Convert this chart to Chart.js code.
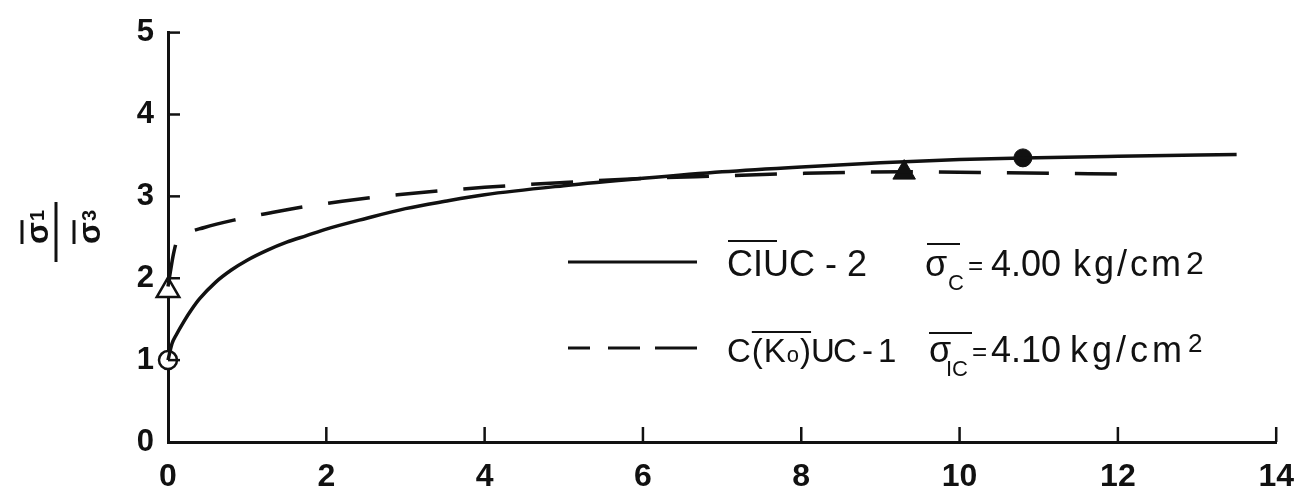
<!DOCTYPE html>
<html>
<head>
<meta charset="utf-8">
<script src="https://cdn.jsdelivr.net/npm/chart.js@4"></script>
<style>
  html, body { margin: 0; padding: 0; background: #fff; }
  #wrap { width: 1310px; height: 497px; }
</style>
</head>
<body>
<div id="wrap"><canvas id="myChart" width="1310" height="497"></canvas></div>
<script>
// strain (%) on x, principal stress ratio on y
var ciucX = [0, 0.05, 0.1, 0.2, 0.3, 0.4, 0.6, 0.8, 1.0, 1.25, 1.5, 1.75, 2, 2.5, 3, 3.5, 4, 5, 6, 7, 8, 9, 10, 10.8, 12, 13.5];
var ciucY = [1, 1.2, 1.3, 1.47, 1.62, 1.75, 1.95, 2.1, 2.22, 2.34, 2.44, 2.52, 2.6, 2.73, 2.85, 2.94, 3.02, 3.13, 3.22, 3.3, 3.36, 3.41, 3.45, 3.47, 3.49, 3.51];

var ckoucX = [0, 0.03, 0.07, 0.11, 0.2, 0.46, 0.83, 1.3, 1.7, 2.2, 2.9, 4, 5, 6, 7, 8, 9.3, 10.5, 12.2];
var ckoucY = [1.9, 2.08, 2.3, 2.45, 2.53, 2.62, 2.71, 2.8, 2.87, 2.94, 3.02, 3.11, 3.17, 3.22, 3.25, 3.28, 3.3, 3.29, 3.27];

// initial points and failure points
var startCircle = [{x: 0, y: 1}];
var startTriangle = [{x: 0, y: 1.85}];
var failCircle = [{x: 10.8, y: 3.47}];
var failTriangle = [{x: 9.3, y: 3.29}];

var xTicks = [0, 2, 4, 6, 8, 10, 12, 14];
var yTicks = [0, 1, 2, 3, 4, 5];

function pts(xs, ys) {
  return xs.map(function (v, i) { return {x: v, y: ys[i]}; });
}

var ink = '#111';
var fontName = '"Liberation Sans", Arial, sans-serif';

/*inward ticks, y title and the hand-lettered legend*/
var extras = {
  id: 'extras',
  afterDraw: function (chart) {
    var c = chart.ctx;
    var xs = chart.scales.x, ys = chart.scales.y;
    c.save();
    c.strokeStyle = ink;
    c.fillStyle = ink;
    c.lineWidth = 2.5;
    // ticks pointing into the plot
    xTicks.forEach(function (t) {
      if (t === 0) return;
      var px = xs.getPixelForValue(t);
      c.beginPath(); c.moveTo(px, ys.bottom); c.lineTo(px, ys.bottom - 15); c.stroke();
    });
    yTicks.forEach(function (t) {
      if (t === 0) return;
      var py = ys.getPixelForValue(t);
      c.beginPath(); c.moveTo(xs.left, py); c.lineTo(xs.left + 12, py); c.stroke();
    });

    // y title: sigma1 / sigma3 as a fraction turned on its side
    c.save();
    c.translate(56, 232);
    c.rotate(-Math.PI / 2);
    c.textAlign = 'left';
    c.textBaseline = 'alphabetic';
    c.lineWidth = 3;
    c.beginPath(); c.moveTo(-30, 0); c.lineTo(30, 0); c.stroke();
    function sig(x, y, sub) {
      c.font = 'bold 32px ' + fontName;
      c.fillText('σ', x, y);
      var w = c.measureText('σ').width;
      c.lineWidth = 3;
      c.beginPath(); c.moveTo(x, y - 26); c.lineTo(x + w + 2, y - 26); c.stroke();
      c.font = 'bold 20px ' + fontName;
      c.fillText(sub, x + w + 1, y - 4);
    }
    sig(-12, -8, '1');
    sig(-12, 44, '3');
    c.restore();

    // legend samples
    c.lineWidth = 3;
    c.beginPath(); c.moveTo(568, 262); c.lineTo(697, 262); c.stroke();
    [[568, 590], [608, 640], [655, 697]].forEach(function (s) {
      c.beginPath(); c.moveTo(s[0], 348); c.lineTo(s[1], 348); c.stroke();
    });
    c.lineWidth = 2;
    c.textBaseline = 'alphabetic';
    c.textAlign = 'left';
    var big = '36px ' + fontName, mid = '33px ' + fontName, small = '22px ' + fontName;
    function over(x1, x2, y) {
      c.beginPath(); c.moveTo(x1, y); c.lineTo(x2, y); c.stroke();
    }
    function txt(s, x, y, f, sp) {
      c.font = f;
      c.letterSpacing = (sp || 0) + 'px';
      c.fillText(s, x, y);
      var w = c.measureText(s).width;
      c.letterSpacing = '0px';
      return w;
    }

    // row 1
    txt('CIUC - 2', 727, 276, big, 0);
    over(728, 777, 241);
    txt('σ', 925, 276, big, 0);
    over(927, 960, 244);
    txt('C', 948, 290, small, 0);
    txt('=', 968, 274, '26px ' + fontName, 0);
    txt('4.00', 991, 276, big, 0);
    var w1 = txt('kg/cm', 1073, 276, big, 3);
    txt('2', 1073 + w1 + 2, 274, '32px ' + fontName, 0);

    // row 2
    var x = 727;
    var wc = txt('C(', x, 362, mid, 1);
    var ol = x + wc - 12;
    x += wc;
    x += txt('K', x, 362, mid, 0);
    x += txt('o', x + 1, 362, small, 0) + 2;
    var wp = txt(')', x, 362, mid, 0);
    over(ol, x + wp, 332);
    x += wp;
    txt('UC - 1', x, 362, mid, -2);
    txt('σ', 929, 362, big, 0);
    over(929, 972, 333);
    txt('IC', 946, 376, small, 0);
    txt('=', 972, 360, '26px ' + fontName, 0);
    txt('4.10', 991, 362, big, 0);
    var w2 = txt('kg/cm', 1070, 362, big, 4);
    txt('2', 1070 + w2 + 2, 352, '26px ' + fontName, 0);
    c.restore();
  }
};

var ctx = document.getElementById('myChart').getContext('2d');
var chart = new Chart(ctx, {
  type: 'scatter',
  data: {
    datasets: [
      {
        label: 'CIUC-2',
        data: pts(ciucX, ciucY),
        showLine: true,
        borderColor: ink,
        borderWidth: 3.5,
        pointRadius: 0,
        cubicInterpolationMode: 'monotone',
        clip: false
      },
      {
        label: 'C(Ko)UC-1',
        data: pts(ckoucX, ckoucY),
        showLine: true,
        borderColor: ink,
        borderWidth: 3.5,
        borderDash: [42, 26],
        pointRadius: 0,
        cubicInterpolationMode: 'monotone',
        clip: false
      },
      {
        label: 'start CIUC',
        data: startCircle,
        pointStyle: 'circle',
        pointRadius: 9,
        borderColor: ink,
        borderWidth: 2.5,
        backgroundColor: '#fff',
        clip: false
      },
      {
        label: 'start CKoUC',
        data: startTriangle,
        pointStyle: 'triangle',
        pointRadius: 13,
        borderColor: ink,
        borderWidth: 2.5,
        backgroundColor: '#fff',
        clip: false
      },
      {
        label: 'failure CIUC',
        data: failCircle,
        pointStyle: 'circle',
        pointRadius: 9,
        borderColor: ink,
        backgroundColor: ink,
        clip: false
      },
      {
        label: 'failure CKoUC',
        data: failTriangle,
        pointStyle: 'triangle',
        pointRadius: 13,
        borderColor: ink,
        backgroundColor: ink,
        clip: false
      }
    ]
  },
  options: {
    responsive: false,
    animation: false,
    events: [],
    layout: { padding: { top: 30, right: 18, left: 0, bottom: 0 } },
    plugins: { legend: { display: false }, tooltip: { enabled: false } },
    scales: {
      x: {
        type: 'linear',
        min: 0, max: 14,
        afterFit: function (s) { s.height = 55; },
        afterBuildTicks: function (s) { s.ticks = xTicks.map(function (v) { return {value: v}; }); },
        grid: { display: false, drawTicks: false },
        border: { display: true, color: ink, width: 3 },
        ticks: {
          color: ink,
          padding: 16,
          font: { family: fontName, size: 32, weight: 'bold' }
        }
      },
      y: {
        type: 'linear',
        min: 0, max: 5,
        afterFit: function (s) { s.width = 168; },
        afterBuildTicks: function (s) { s.ticks = yTicks.map(function (v) { return {value: v}; }); },
        grid: { display: false, drawTicks: false },
        border: { display: true, color: ink, width: 3 },
        ticks: {
          color: ink,
          padding: 14,
          font: { family: fontName, size: 31, weight: 'bold' }
        }
      }
    }
  },
  plugins: [extras]
});
</script>
</body>
</html>
